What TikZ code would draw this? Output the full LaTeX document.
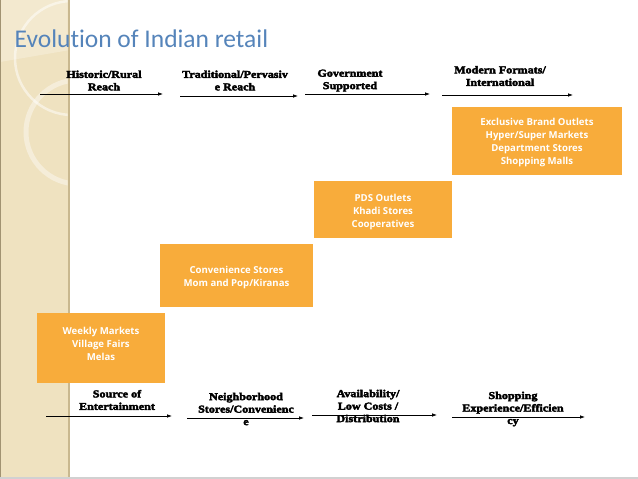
\documentclass[tikz,border=0pt]{standalone}
\usepackage{fontspec}
\usetikzlibrary{arrows.meta}
\newfontfamily\titlefont{Carlito}[Ligatures=NoCommon]
\newfontfamily\boxfont{Open Sans}
\newfontfamily\heavyfont{Liberation Serif}[BoldFeatures={FakeBold=3.5, FakeStretch=1.15}]
\definecolor{boxorange}{HTML}{F8AC3B}
\definecolor{titleblue}{HTML}{5584BA}
\definecolor{stripbeige}{HTML}{EFE2C0}
\definecolor{stripedge}{HTML}{C9B88F}
\begin{document}
\begin{tikzpicture}[x=1pt,y=-1pt,
  lbl/.style={font=\heavyfont\bfseries\fontsize{10.5}{12.5}\selectfont, align=center, inner sep=0pt, text=black},
  orangebox/.style={fill=boxorange, draw=none, inner sep=0pt},
  boxtext/.style={font=\boxfont\bfseries\fontsize{9.6}{13}\selectfont, text=white, align=center, inner sep=0pt},
  arr/.style={-{Latex[length=5pt,width=3.6pt]}, line width=0.75pt, black}]
\useasboundingbox (0,0) rectangle (638,479);
% left decorative strip
\fill[stripbeige] (0,0) rectangle (70,477);
\fill[stripedge] (67.5,0) rectangle (70,477);
\fill[stripedge!80!black] (0,0) rectangle (1,477);
\begin{scope}
\clip (1,0) rectangle (67.5,477);
\fill[white,opacity=0.25] (0,0) -- (70,0) -- (70,50) -- (0,62) -- cycle;
\draw[white,opacity=0.5,line width=2.5pt] (72,58) circle (57);
\draw[white,opacity=0.4,line width=5pt] (78,132) circle (52);
\end{scope}
\fill[black!18] (0,476.5) rectangle (638,479);
% title
\node[anchor=base west, inner sep=0pt, text=titleblue, font=\titlefont\fontsize{25.5}{28}\selectfont] (title) at (14.5,47) {Evolution of Indian retail};
% orange boxes
\node[orangebox, minimum width=128pt, minimum height=70pt] (b1) at (101,348) {};
\node[orangebox, minimum width=153pt, minimum height=63pt] (b2) at (236.5,275.5) {};
\node[orangebox, minimum width=138pt, minimum height=57pt] (b3) at (383,209.5) {};
\node[orangebox, minimum width=170pt, minimum height=68pt] (b4) at (537,141) {};
\node[boxtext] (b1t) at (101,343.5) {Weekly Markets\\Village Fairs\\Melas};
\node[boxtext] (b2t) at (236.5,277.5) {Convenience Stores\\Mom and Pop/Kiranas};
\node[boxtext] (b3t) at (383,212) {PDS Outlets\\Khadi Stores\\Cooperatives};
\node[boxtext] (b4t) at (537,143) {Exclusive Brand Outlets\\Hyper/Super Markets\\Department Stores\\Shopping Malls};
% top labels
\node[lbl] (t1) at (104,80.5) {Historic/Rural\\Reach};
\node[lbl] (t2) at (235,80.5) {Traditional/Pervasiv\\e Reach};
\node[lbl] (t3) at (350,80.5) {Government\\Supported};
\node[lbl] (t4) at (500,76) {Modern Formats/\\International};
% bottom labels
\node[lbl] (u1) at (117,400) {Source of\\Entertainment};
\node[lbl] (u2) at (246,409) {Neighborhood\\Stores/Convenienc\\e};
\node[lbl] (u3) at (368,406) {Availability/\\Low Costs /\\Distribution};
\node[lbl] (u4) at (513,409) {Shopping\\Experience/Efficien\\cy};
% arrow end points
\coordinate (t1s) at (40,94);  \coordinate (t1e) at (163,94);
\coordinate (t2s) at (180,96); \coordinate (t2e) at (298,96);
\coordinate (t3s) at (305,94); \coordinate (t3e) at (430,94);
\coordinate (t4s) at (442,95); \coordinate (t4e) at (573,95);
\coordinate (u1s) at (46,416); \coordinate (u1e) at (172,416);
\coordinate (u2s) at (187,418); \coordinate (u2e) at (304,418);
\coordinate (u3s) at (312,415); \coordinate (u3e) at (437,415);
\coordinate (u4s) at (452,417); \coordinate (u4e) at (585,417);
\draw[arr] (t1s) -- (t1e);
\draw[arr] (t2s) -- (t2e);
\draw[arr] (t3s) -- (t3e);
\draw[arr] (t4s) -- (t4e);
\draw[arr] (u1s) -- (u1e);
\draw[arr] (u2s) -- (u2e);
\draw[arr] (u3s) -- (u3e);
\draw[arr] (u4s) -- (u4e);
\end{tikzpicture}
\end{document}
